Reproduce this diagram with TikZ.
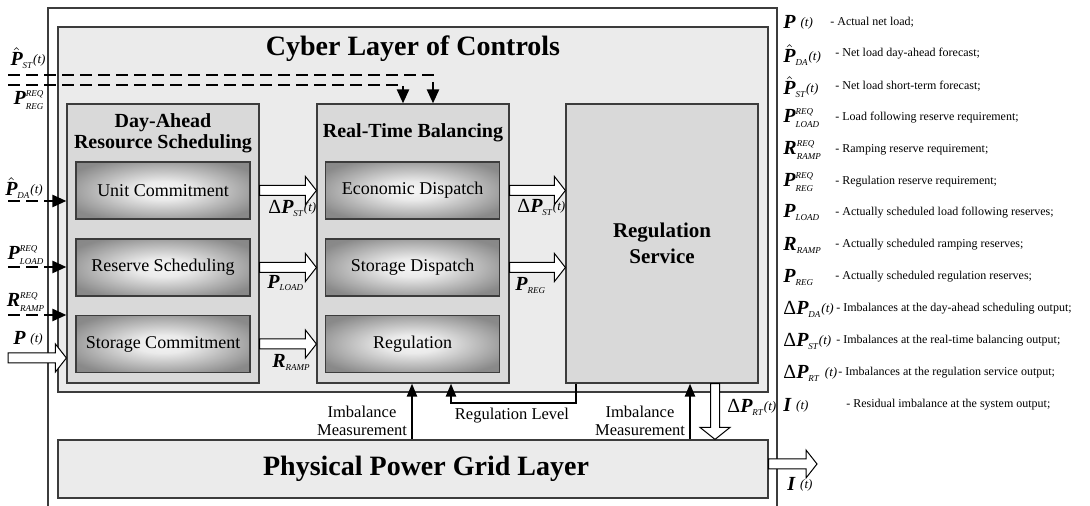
\documentclass[tikz,border=0pt]{standalone}
\usepackage{fontspec}
\setmainfont{Liberation Serif}
\usepackage{tikz}
\usetikzlibrary{arrows.meta,calc}

\definecolor{layerc}{HTML}{EBEBEB}
\definecolor{stagec}{HTML}{D9D9D9}
\definecolor{edgec}{HTML}{3C3C3C}

\pgfdeclareradialshading{funcshade}{\pgfpoint{0bp}{0bp}}{color(0bp)=(black!4); color(8bp)=(black!8); color(30bp)=(black!46); color(50bp)=(black!50)}

\newcommand{\subtx}[1]{\mbox{\fontsize{4.5}{5}\selectfont\itshape #1}}
\newcommand{\targt}{\raisebox{1pt}{\fontsize{6.5}{7}\selectfont\itshape (t)}}
\newcommand{\bP}{\mbox{\bfseries\itshape P}}
\newcommand{\bR}{\mbox{\bfseries\itshape R}}
\newcommand{\bI}{\mbox{\bfseries\itshape I}}

% hollow block arrows, horizontal (left to right) and vertical (downwards)
\newcommand{\hblock}[2]{%
  \draw[blockarr] let \p1=(#1), \p2=(#2) in
    (\x1,\y1+2.5pt) -- (\x2-5.5pt,\y1+2.5pt) -- (\x2-5.5pt,\y1+7pt) -- (\x2,\y1)
    -- (\x2-5.5pt,\y1-7pt) -- (\x2-5.5pt,\y1-2.5pt) -- (\x1,\y1-2.5pt) -- cycle;}
\newcommand{\vblock}[2]{%
  \draw[blockarr] let \p1=(#1), \p2=(#2) in
    (\x1-2.25pt,\y1) -- (\x1-2.25pt,\y2+6pt) -- (\x1-7.5pt,\y2+6pt) -- (\x1,\y2)
    -- (\x1+7.5pt,\y2+6pt) -- (\x1+2.25pt,\y2+6pt) -- (\x1+2.25pt,\y1) -- cycle;}

\begin{document}
\begin{tikzpicture}[x=0.5pt, y=-0.5pt,
  layer/.style={draw=edgec, fill=layerc, line width=0.6pt},
  stage/.style={draw=edgec, fill=stagec, line width=0.6pt, minimum width=96pt, minimum height=139.5pt},
  func/.style={draw=edgec, line width=0.6pt, shade, shading=funcshade, minimum width=87pt, minimum height=28.5pt, font=\fontsize{9}{11}\selectfont},
  ttl/.style={font=\fontsize{14}{16}\selectfont\bfseries},
  head/.style={font=\fontsize{10}{10.5}\selectfont\bfseries, align=center},
  sym/.style={inner sep=0pt, font=\fontsize{10}{12}\selectfont},
  note/.style={font=\fontsize{8.25}{9}\selectfont, align=center},
  lgd/.style={inner sep=0pt, anchor=west, font=\fontsize{6}{7}\selectfont},
  blockarr/.style={draw=black, fill=white, line width=0.5pt},
  dashin/.style={line width=1.2pt, dash pattern=on 6pt off 3pt, -{Triangle[length=7pt,width=6pt]}},
  meas/.style={line width=1.1pt, -{Triangle[length=6.5pt,width=5pt]}}]

\useasboundingbox (0,0) rectangle (1090,506);

% frame
\draw[edgec, line width=0.6pt] (48,506) -- (48,8) -- (777,8) -- (777,506);

% layers
\node[layer, minimum width=355pt, minimum height=182.5pt] (cyber) at (413,209.5) {};
\node[ttl] (cyberttl) at (413,49) {Cyber Layer of Controls};
\node[layer, minimum width=355pt, minimum height=29pt] (phys) at (413,469) {};
\node[ttl] (physttl) at (426,469) {Physical Power Grid Layer};

% stages
\node[stage] (da) at (163,243.5) {};
\node[head] (dattl) at (163,133) {Day-Ahead\\Resource Scheduling};
\node[stage] (rt) at (413,243.5) {};
\node[head] (rtttl) at (413,133) {Real-Time Balancing};
\node[stage, head, font=\fontsize{10.5}{13}\selectfont\bfseries] (rs) at (662,243.5) {Regulation\\Service};

\node[func] (uc) at (163,190.5) {Unit Commitment};
\node[func] (rsch) at (163,267.5) {Reserve Scheduling};
\node[func] (sc) at (163,344) {Storage Commitment};
\node[func] (ed) at (412.5,190.5) {Economic Dispatch};
\node[func] (sd) at (412.5,267.5) {Storage Dispatch};
\node[func] (reg) at (412.5,344) {Regulation};

% flows between stages
\hblock{da.east |- uc}{rt.west |- uc}
\hblock{da.east |- rsch}{rt.west |- rsch}
\hblock{da.east |- sc}{rt.west |- sc}
\hblock{rt.east |- ed}{rs.west |- ed}
\hblock{rt.east |- sd}{rs.west |- sd}

\node[sym, anchor=west] (lbDST1) at (268,208) {Δ$\bP_{\subtx{ST}}$\targt};
\node[sym, anchor=west] (lbPLOAD) at (267,283) {$\bP_{\subtx{LOAD}}$};
\node[sym, anchor=west] (lbRRAMP) at (272,362) {$\bR_{\subtx{RAMP}}$};
\node[sym, anchor=west] (lbDST2) at (517,207) {Δ$\bP_{\subtx{ST}}$\targt};
\node[sym, anchor=west] (lbPREG) at (515,285) {$\bP_{\subtx{REG}}$};

% inputs
\coordinate (inSTa) at (8,75);
\coordinate (turnA) at (433,75);
\coordinate (inSTb) at (8,85);
\coordinate (turnB) at (403,85);
\coordinate (inDA) at (8,201);
\coordinate (inLOAD) at (8,267);
\coordinate (inRAMP) at (8,315);
\coordinate (inP) at (8,358);

\draw[dashin] (inSTa) -- (turnA) -- (rt.north -| turnA);
\draw[dashin] (inSTb) -- (turnB) -- (rt.north -| turnB);
\draw[dashin] (inDA) -- (da.west |- inDA);
\draw[dashin] (inLOAD) -- (da.west |- inLOAD);
\draw[dashin] (inRAMP) -- (da.west |- inRAMP);
\hblock{inP}{da.west |- inP}

\node[sym] (lbST) at (28,58) {$\hat{\bP}_{\subtx{ST}}$\targt};
\node[sym] (lbREG) at (29,100) {$\bP^{\subtx{REQ}}_{\subtx{REG}}$};
\node[sym] (lbDA) at (24,188) {$\hat{\bP}_{\subtx{DA}}$\targt};
\node[sym] (lbLOAD) at (26,255) {$\bP^{\subtx{REQ}}_{\subtx{LOAD}}$};
\node[sym] (lbRAMP) at (26,302) {$\bR^{\subtx{REQ}}_{\subtx{RAMP}}$};
\node[sym] (lbP) at (28,338) {\bP\ \targt};

% feedback from the grid
\coordinate (mRT) at (412,420);
\coordinate (mRS) at (690,420);
\coordinate (lvA) at (576,403);
\coordinate (lvB) at (451,403);
\draw[meas] (phys.north -| mRT) -- (rt.south -| mRT);
\draw[meas] (phys.north -| mRS) -- (rs.south -| mRS);
\draw[meas] (rs.south -| lvA) -- (lvA) -- (lvB) -- (rt.south -| lvB);

\node[note] (imbA) at (362,421) {Imbalance\\Measurement};
\node[note] (imbB) at (640,421) {Imbalance\\Measurement};
\node[note] (lvl) at (512,416) {Regulation Level};

% outputs
\coordinate (dRT) at (715,410);
\coordinate (iOut) at (817,464);
\vblock{rs.south -| dRT}{phys.north -| dRT}
\hblock{phys.east |- iOut}{iOut}
\node[sym, anchor=west] (lbDRT) at (727,407) {Δ$\bP_{\subtx{RT}}$\targt};
\node[sym, anchor=west] (lbI) at (787,484) {\bI\ \targt};

% legend
\node[sym, anchor=west] (lgP) at (783,22) {\bP\ \targt};
\node[lgd] (lgPd) at (830,22) {- Actual net load;};
\node[sym, anchor=west] (lgPda) at (783,55) {$\hat{\bP}_{\subtx{DA}}$\targt};
\node[lgd] (lgPdad) at (835,54) {- Net load day-ahead forecast;};
\node[sym, anchor=west] (lgPst) at (783,87) {$\hat{\bP}_{\subtx{ST}}$\targt};
\node[lgd] (lgPstd) at (835,86) {- Net load short-term forecast;};
\node[sym, anchor=west] (lgPlr) at (783,118) {$\bP^{\subtx{REQ}}_{\subtx{LOAD}}$};
\node[lgd] (lgPlrd) at (835,118) {- Load following reserve requirement;};
\node[sym, anchor=west] (lgRr) at (783,150) {$\bR^{\subtx{REQ}}_{\subtx{RAMP}}$};
\node[lgd] (lgRrd) at (835,150) {- Ramping reserve requirement;};
\node[sym, anchor=west] (lgPrr) at (783,182) {$\bP^{\subtx{REQ}}_{\subtx{REG}}$};
\node[lgd] (lgPrrd) at (835,182) {- Regulation reserve requirement;};
\node[sym, anchor=west] (lgPl) at (783,213) {$\bP_{\subtx{LOAD}}$};
\node[lgd] (lgPld) at (835,213) {- Actually scheduled load following reserves;};
\node[sym, anchor=west] (lgR) at (783,245) {$\bR_{\subtx{RAMP}}$};
\node[lgd] (lgRd) at (835,245) {- Actually scheduled ramping reserves;};
\node[sym, anchor=west] (lgPr) at (783,277) {$\bP_{\subtx{REG}}$};
\node[lgd] (lgPrd) at (835,277) {- Actually scheduled regulation reserves;};
\node[sym, anchor=west] (lgDda) at (783,309) {Δ$\bP_{\subtx{DA}}$\targt};
\node[lgd] (lgDdad) at (836,309) {- Imbalances at the day-ahead scheduling output;};
\node[sym, anchor=west] (lgDst) at (783,341) {Δ$\bP_{\subtx{ST}}$\targt};
\node[lgd] (lgDstd) at (836,341) {- Imbalances at the real-time balancing output;};
\node[sym, anchor=west] (lgDrt) at (783,373) {Δ$\bP_{\subtx{RT}}$\ \targt};
\node[lgd] (lgDrtd) at (838,373) {- Imbalances at the regulation service output;};
\node[sym, anchor=west] (lgI) at (783,405) {\bI\ \targt};
\node[lgd] (lgId) at (846,405) {- Residual imbalance at the system output;};

\end{tikzpicture}
\end{document}
